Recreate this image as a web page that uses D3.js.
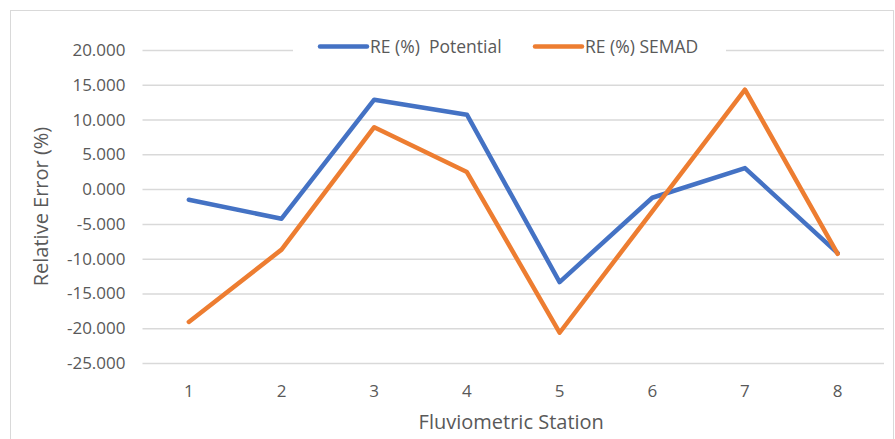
<!DOCTYPE html>
<html lang="en">
<head>
	<meta charset="UTF-8">
	<title>Relative Error</title>
	<script src="https://cdn.jsdelivr.net/npm/d3@7"></script>
	<style>
		body{ margin:0; background:#fff; }
		text{ font-family:"Open Sans"; fill:#595959; }
	</style>
</head>
<body>
<script type="text/javascript">

	var stations = ['1', '2', '3', '4', '5', '6', '7', '8'];
	var potential = [-1.53, -4.26, 12.85, 10.7, -13.37, -1.24, 3.02, -9.2];
	var semad = [-19.1, -8.7, 8.9, 2.45, -20.65, -3.2, 14.29, -9.3];
	var yTicks = [20, 15, 10, 5, 0, -5, -10, -15, -20, -25];
	var seriesNames = ['RE (%)  Potential', 'RE (%) SEMAD'];
	var colors = ['#4472C4', '#ED7D31'];

	var W = 895, H = 439;
	var margin = {top: 50, left: 142.5, right: 11, bottom: 76};
	var width = W - margin.left - margin.right,
		height = H - margin.top - margin.bottom;

	var svg = d3.select('body').append('svg')
		.attr('width', W)
		.attr('height', H);

	svg.append('rect')
		.attr('x', 10.5).attr('y', 10.5)
		.attr('width', W - 12).attr('height', H)
		.attr('fill', '#fff')
		.attr('stroke', '#d9d9d9');

	var g = svg.append('g')
		.attr('transform', 'translate(' + margin.left + ',' + margin.top + ')');

	var x = d3.scaleBand().domain(stations).range([0, width]);
	var y = d3.scaleLinear().domain([-25, 20]).range([height, 0]);

	// gridlines
	g.append('g')
		.call(d3.axisLeft(y).tickValues(yTicks).tickSize(-width).tickFormat(''))
		.call(function (s) {
			s.select('.domain').remove();
			s.selectAll('line').attr('stroke', '#d9d9d9').attr('stroke-width', 1.5);
		});

	// y labels, plain hyphen for the minus like Excel
	var fmt = function (d) { return d.toFixed(3); };
	g.append('g')
		.call(d3.axisLeft(y).tickValues(yTicks).tickSize(0).tickPadding(17).tickFormat(fmt))
		.call(function (s) {
			s.select('.domain').remove();
			s.selectAll('text').attr('font-size', 17).attr('fill', '#595959').style('font-family', 'Open Sans');
		});

	// x labels
	g.append('g')
		.attr('transform', 'translate(0,' + height + ')')
		.call(d3.axisBottom(x).tickSize(0).tickPadding(22))
		.call(function (s) {
			s.select('.domain').remove();
			s.selectAll('text').attr('font-size', 17).attr('fill', '#595959').style('font-family', 'Open Sans');
		});

	var line = d3.line()
		.x(function (d, i) { return x(stations[i]) + x.bandwidth() / 2; })
		.y(function (d) { return y(d); });

	[potential, semad].forEach(function (s, i) {
		g.append('path')
			.datum(s)
			.attr('fill', 'none')
			.attr('stroke', colors[i])
			.attr('stroke-width', 4.5)
			.attr('stroke-linejoin', 'round')
			.attr('stroke-linecap', 'round')
			.attr('d', line);
	});

	// legend
	var legend = svg.append('g');
	legend.append('rect')
		.attr('x', 293).attr('y', 36)
		.attr('width', 433).attr('height', 22)
		.attr('fill', '#fff');
	var lx = [320, 535];
	seriesNames.forEach(function (n, i) {
		legend.append('line')
			.attr('x1', lx[i]).attr('x2', lx[i] + 47)
			.attr('y1', 46.5).attr('y2', 46.5)
			.attr('stroke', colors[i])
			.attr('stroke-width', 4.5)
			.attr('stroke-linecap', 'round');
		legend.append('text')
			.attr('x', lx[i] + 50).attr('y', 53)
			.attr('font-size', 17.5)
			.style('white-space', 'pre')
			.text(n);
	});

	svg.append('text')
		.attr('x', margin.left + width / 2 - 2)
		.attr('y', 429)
		.attr('text-anchor', 'middle')
		.attr('font-size', 20)
		.text('Fluviometric Station');

	svg.append('text')
		.attr('transform', 'translate(48,' + (margin.top + height / 2) + ') rotate(-90)')
		.attr('text-anchor', 'middle')
		.attr('font-size', 20)
		.text('Relative Error (%)');

</script>
</body>
</html>
